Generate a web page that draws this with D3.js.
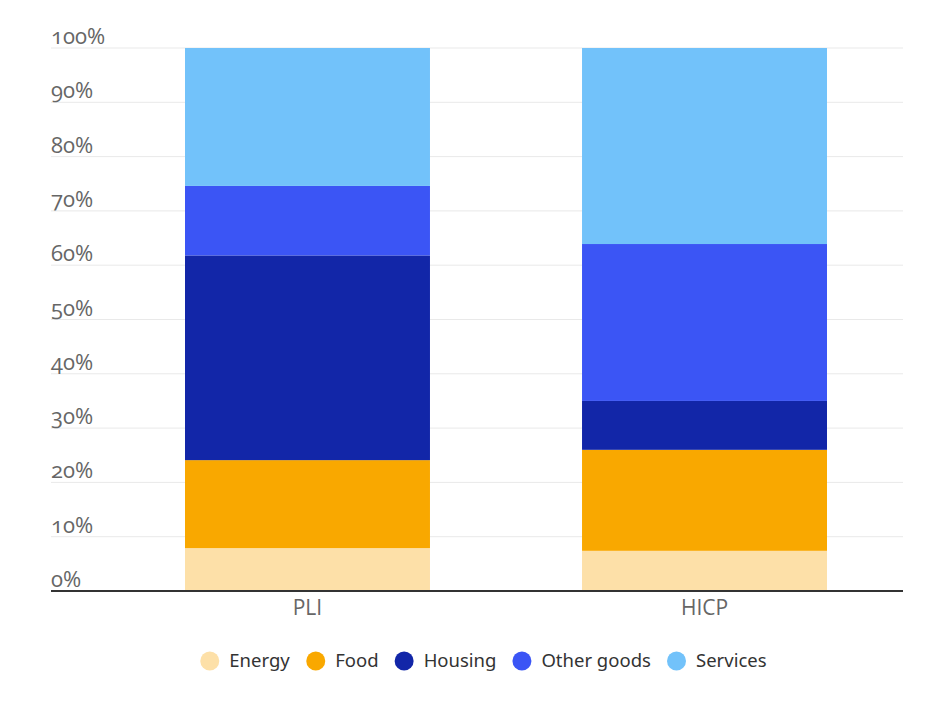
<!DOCTYPE html>
<html>
<head>
<meta charset="utf-8">
<script src="https://cdn.jsdelivr.net/npm/d3@7"></script>
<style>
  body { margin: 0; background: #fff; }
  svg { display: block; }
  .tick-label { font-family: "Open Sans", "Noto Sans", sans-serif; font-size: 22px; fill: #666; font-variant-numeric: oldstyle-nums; }
  .cat-label { font-family: "Open Sans", "Noto Sans", sans-serif; font-size: 21px; fill: #666; }
  .legend text { font-family: "Noto Sans", sans-serif; font-size: 18.5px; fill: #333; }
</style>
</head>
<body>
<svg width="931" height="704"></svg>
<script>
// data (share of basket, %)
const categories = ["PLI", "HICP"];
const seriesNames = ["Energy", "Food", "Housing", "Other goods", "Services"];
const energy = [7.9, 7.4];
const food = [16.2, 18.6];
const housing = [37.7, 9.0];
const otherGoods = [12.8, 28.9];
const services = [25.4, 36.1];
const yTicks = [0, 10, 20, 30, 40, 50, 60, 70, 80, 90, 100];
const colors = ["#fde0a8", "#f9a800", "#1226a8", "#3b55f5", "#72c2fa"];

const seriesValues = [energy, food, housing, otherGoods, services];
const rows = categories.map((c, i) => {
  const r = { cat: c };
  seriesNames.forEach((s, j) => r[s] = seriesValues[j][i]);
  return r;
});

const svg = d3.select("svg");
const gridLeft = 51, gridRight = 903;

const y = d3.scaleLinear().domain([0, 100]).range([591, 48]);
const x = d3.scaleBand().domain(categories).range([185, 827]).paddingInner(0.383);
const color = d3.scaleOrdinal().domain(seriesNames).range(colors);

// gridlines
svg.append("g").selectAll("line").data(yTicks.filter(d => d > 0)).enter()
  .append("line")
  .attr("x1", gridLeft).attr("x2", gridRight)
  .attr("y1", d => y(d)).attr("y2", d => y(d))
  .attr("stroke", "#e9e9e9").attr("stroke-width", 1);

// tick labels sit above the lines
svg.append("g").selectAll("text").data(yTicks).enter()
  .append("text")
  .attr("class", "tick-label")
  .attr("x", gridLeft)
  .attr("y", d => y(d) - 4)
  .text(d => d + "%");

const stacked = d3.stack().keys(seriesNames)(rows);

svg.append("g").selectAll("g").data(stacked).enter()
  .append("g")
  .attr("fill", d => color(d.key))
  .selectAll("rect").data(d => d).enter()
  .append("rect")
  .attr("x", d => x(d.data.cat))
  .attr("width", x.bandwidth())
  .attr("y", d => y(d[1]))
  .attr("height", d => y(d[0]) - y(d[1]));

// baseline
svg.append("line")
  .attr("x1", gridLeft).attr("x2", gridRight)
  .attr("y1", y(0)).attr("y2", y(0))
  .attr("stroke", "#333").attr("stroke-width", 2);

// category labels
svg.append("g").selectAll("text").data(categories).enter()
  .append("text")
  .attr("class", "cat-label")
  .attr("x", d => x(d) + x.bandwidth() / 2)
  .attr("y", 615)
  .attr("text-anchor", "middle")
  .text(d => d);

// legend, centred
const legend = svg.append("g").attr("class", "legend");
const items = legend.selectAll("g").data(seriesNames).enter().append("g");
items.append("circle").attr("r", 9.5).attr("cx", 9.5).attr("cy", 0).attr("fill", d => color(d));
items.append("text").attr("x", 29).attr("y", 6).text(d => d);

const gap = 16;
let pos = 0;
items.each(function () {
  const w = this.getBBox().width;
  d3.select(this).attr("data-x", pos);
  pos += w + gap;
});
const total = pos - gap;
const startX = 483.5 - total / 2;
items.attr("transform", function () {
  return `translate(${startX + +this.getAttribute("data-x")},661)`;
});
</script>
</body>
</html>
